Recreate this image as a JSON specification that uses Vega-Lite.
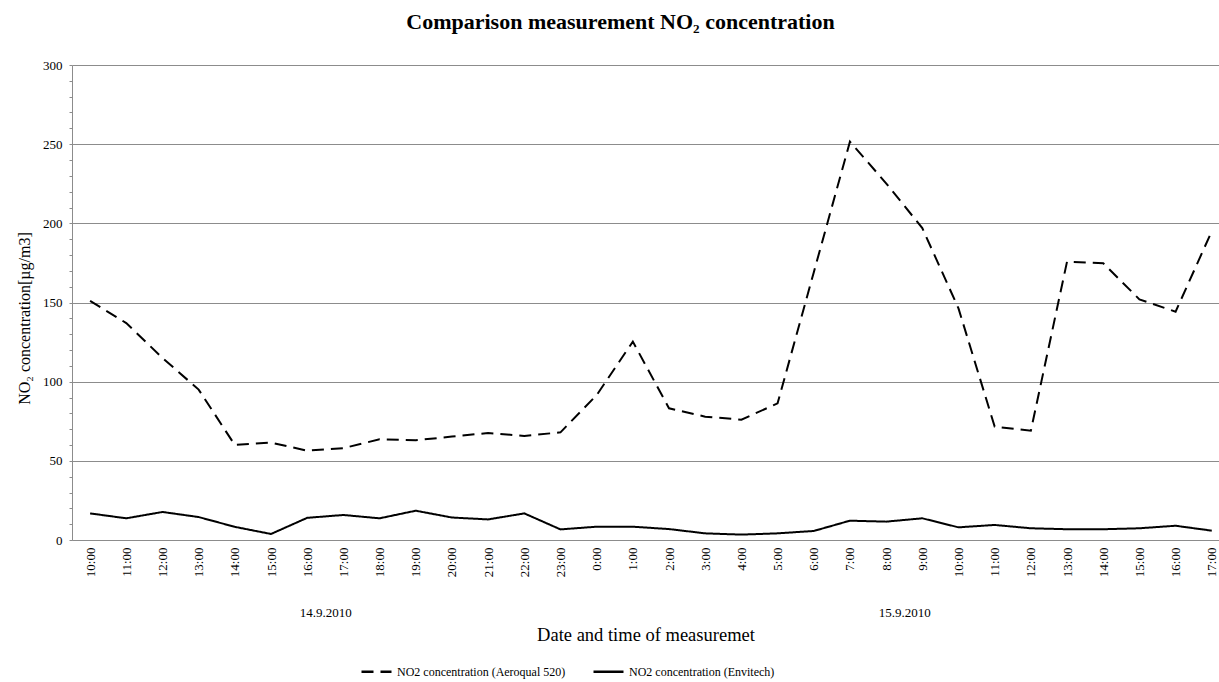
{
  "$schema": "https://vega.github.io/schema/vega-lite/v6.json",
  "width": 1147,
  "height": 475,
  "autosize": {"type": "none"},
  "padding": {"left": 72, "top": 65, "right": 0, "bottom": 142},
  "background": "white",
  "config": {
    "font": "Liberation Serif",
    "view": {"stroke": null},
    "axis": {"labelColor": "black", "titleColor": "black", "labelFont": "Liberation Serif", "titleFont": "Liberation Serif", "titleFontWeight": "normal"},
    "legend": {"labelFont": "Liberation Serif", "labelColor": "black"}
  },
  "title": {
    "text": "Comparison measurement NO₂ concentration",
    "font": "Liberation Serif",
    "fontSize": 22,
    "fontWeight": "bold",
    "color": "black",
    "anchor": "middle",
    "dx": -25,
    "offset": 25
  },
  "data": {
    "values": [
      {"i": 0, "date": "14.9.2010", "time": "10:00", "aeroqual": 151, "envitech": 16.8},
      {"i": 1, "date": "14.9.2010", "time": "11:00", "aeroqual": 137, "envitech": 13.7},
      {"i": 2, "date": "14.9.2010", "time": "12:00", "aeroqual": 115, "envitech": 17.7},
      {"i": 3, "date": "14.9.2010", "time": "13:00", "aeroqual": 95, "envitech": 14.5},
      {"i": 4, "date": "14.9.2010", "time": "14:00", "aeroqual": 60, "envitech": 8.3},
      {"i": 5, "date": "14.9.2010", "time": "15:00", "aeroqual": 61.5, "envitech": 3.8},
      {"i": 6, "date": "14.9.2010", "time": "16:00", "aeroqual": 56.4, "envitech": 14},
      {"i": 7, "date": "14.9.2010", "time": "17:00", "aeroqual": 58, "envitech": 15.8},
      {"i": 8, "date": "14.9.2010", "time": "18:00", "aeroqual": 63.6, "envitech": 13.7},
      {"i": 9, "date": "14.9.2010", "time": "19:00", "aeroqual": 63, "envitech": 18.5},
      {"i": 10, "date": "14.9.2010", "time": "20:00", "aeroqual": 65.3, "envitech": 14.2},
      {"i": 11, "date": "14.9.2010", "time": "21:00", "aeroqual": 67.6, "envitech": 13},
      {"i": 12, "date": "14.9.2010", "time": "22:00", "aeroqual": 65.7, "envitech": 16.8},
      {"i": 13, "date": "14.9.2010", "time": "23:00", "aeroqual": 68, "envitech": 6.7},
      {"i": 14, "date": "15.9.2010", "time": "0:00", "aeroqual": 91.5, "envitech": 8.4},
      {"i": 15, "date": "15.9.2010", "time": "1:00", "aeroqual": 125.3, "envitech": 8.4},
      {"i": 16, "date": "15.9.2010", "time": "2:00", "aeroqual": 83.2, "envitech": 6.9},
      {"i": 17, "date": "15.9.2010", "time": "3:00", "aeroqual": 77.9, "envitech": 4.2},
      {"i": 18, "date": "15.9.2010", "time": "4:00", "aeroqual": 76, "envitech": 3.4},
      {"i": 19, "date": "15.9.2010", "time": "5:00", "aeroqual": 86.3, "envitech": 4.2},
      {"i": 20, "date": "15.9.2010", "time": "6:00", "aeroqual": 169, "envitech": 5.7},
      {"i": 21, "date": "15.9.2010", "time": "7:00", "aeroqual": 251.6, "envitech": 12.2},
      {"i": 22, "date": "15.9.2010", "time": "8:00", "aeroqual": 225.3, "envitech": 11.6},
      {"i": 23, "date": "15.9.2010", "time": "9:00", "aeroqual": 197, "envitech": 13.7},
      {"i": 24, "date": "15.9.2010", "time": "10:00", "aeroqual": 146.3, "envitech": 8},
      {"i": 25, "date": "15.9.2010", "time": "11:00", "aeroqual": 71.6, "envitech": 9.5},
      {"i": 26, "date": "15.9.2010", "time": "12:00", "aeroqual": 69, "envitech": 7.4},
      {"i": 27, "date": "15.9.2010", "time": "13:00", "aeroqual": 175.8, "envitech": 6.8},
      {"i": 28, "date": "15.9.2010", "time": "14:00", "aeroqual": 174.8, "envitech": 6.8},
      {"i": 29, "date": "15.9.2010", "time": "15:00", "aeroqual": 152, "envitech": 7.4},
      {"i": 30, "date": "15.9.2010", "time": "16:00", "aeroqual": 144.2, "envitech": 9},
      {"i": 31, "date": "15.9.2010", "time": "17:00", "aeroqual": 195, "envitech": 5.9}
    ]
  },
  "transform": [
    {"fold": ["aeroqual", "envitech"], "as": ["series", "value"]}
  ],
  "encoding": {
    "y": {
      "field": "value",
      "type": "quantitative",
      "scale": {"domain": [0, 300], "nice": false, "zero": true},
      "axis": {
        "values": [0, 10, 20, 30, 40, 50, 60, 70, 80, 90, 100, 110, 120, 130, 140, 150, 160, 170, 180, 190, 200, 210, 220, 230, 240, 250, 260, 270, 280, 290, 300],
        "labelExpr": "datum.value % 50 === 0 ? datum.label : ''",
        "labelFontSize": 13,
        "labelPadding": 7,
        "tickSize": 3,
        "tickColor": "#8c8c8c",
        "domainColor": "#8c8c8c",
        "grid": true,
        "gridColor": "#8c8c8c",
        "gridOpacity": {"condition": {"test": "datum.value % 50 === 0", "value": 1}, "value": 0},
        "title": "NO₂ concentration[µg/m3]",
        "titleFontSize": 16,
        "titleAngle": 270,
        "titleAlign": "center",
        "titleBaseline": "middle",
        "titleX": -48,
        "titleY": 253
      }
    },
    "strokeDash": {
      "field": "series",
      "type": "nominal",
      "scale": {"domain": ["aeroqual", "envitech"], "range": [[12, 7], [1, 0]]},
      "legend": {
        "title": null,
        "orient": "none",
        "legendX": 288,
        "legendY": 590,
        "direction": "horizontal",
        "symbolType": "stroke",
        "symbolSize": 900,
        "symbolStrokeWidth": 2.5,
        "symbolStrokeColor": "black",
        "labelFontSize": 12,
        "labelLimit": 0,
        "columnPadding": 22,
        "labelExpr": "datum.label === 'aeroqual' ? 'NO2 concentration (Aeroqual 520)' : 'NO2 concentration (Envitech)'"
      }
    }
  },
  "layer": [
    {
      "transform": [{"filter": "datum.series === 'aeroqual'"}],
      "mark": {"type": "line", "color": "black", "strokeWidth": 2},
      "encoding": {
        "x": {
          "field": "i",
          "type": "quantitative",
          "scale": {"domain": [-0.5, 31.2], "nice": false, "zero": false},
          "axis": {
            "orient": "bottom",
            "values": [0, 1, 2, 3, 4, 5, 6, 7, 8, 9, 10, 11, 12, 13, 14, 15, 16, 17, 18, 19, 20, 21, 22, 23, 24, 25, 26, 27, 28, 29, 30, 31],
            "labelExpr": "((datum.value + 10) % 24) + ':00'",
            "labelAngle": 270,
            "labelAlign": "right",
            "labelBaseline": "middle",
            "labelFontSize": 13,
            "labelPadding": 7,
            "labelOverlap": false,
            "labelFlush": false,
            "ticks": false,
            "grid": false,
            "domainColor": "#8c8c8c",
            "title": null
          }
        }
      }
    },
    {
      "transform": [{"filter": "datum.series === 'envitech'"}],
      "mark": {"type": "line", "color": "black", "strokeWidth": 2},
      "encoding": {
        "x": {
          "field": "i",
          "type": "quantitative",
          "axis": {
            "orient": "bottom",
            "values": [6.5, 22.5],
            "labelExpr": "datum.value < 15 ? '14.9.2010' : '15.9.2010'",
            "labelAngle": 0,
            "labelAlign": "center",
            "labelBaseline": "top",
            "labelFontSize": 13,
            "labelPadding": 66,
            "labelFlush": false,
            "domain": false,
            "ticks": false,
            "grid": false,
            "title": "Date and time of measuremet",
            "titleFontSize": 18.5,
            "titlePadding": 6
          }
        }
      }
    }
  ],
  "resolve": {"axis": {"x": "independent"}}
}
